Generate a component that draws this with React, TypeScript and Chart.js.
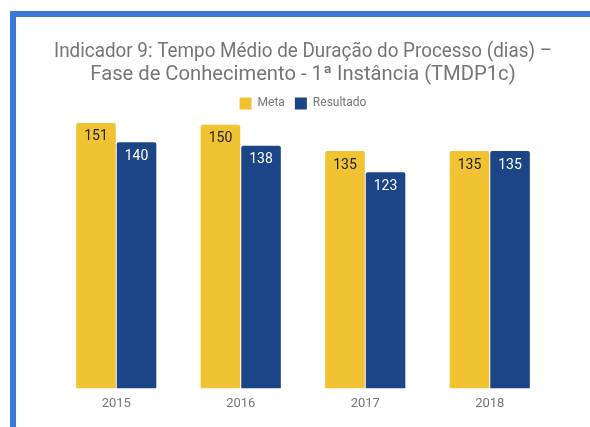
import React, { useEffect, useRef } from "react";
import { Chart, registerables } from "chart.js";

Chart.register(...registerables);

const TITLE_LINES = [
  "Indicador 9: Tempo Médio de Duração do Processo (dias) –",
  "Fase de Conhecimento - 1ª Instância (TMDP1c)",
];
const YEARS = ["2015", "2016", "2017", "2018"];
const META = [151, 150, 135, 135];
const RESULTADO = [140, 138, 123, 135];
const SERIES_NAMES = ["Meta", "Resultado"];

const YELLOW = "#f1c232";
const BLUE = "#1c4587";
const GRAY = "#757575";
const FONT = "Roboto";

const valueLabels = {
  id: "valueLabels",
  afterDatasetsDraw(chart: any) {
    const ctx = chart.ctx;
    ctx.save();
    ctx.font = `14px ${FONT}`;
    ctx.textAlign = "center";
    ctx.textBaseline = "middle";
    chart.data.datasets.forEach((ds: any, i: number) => {
      const meta = chart.getDatasetMeta(i);
      ctx.fillStyle = i === 0 ? "#212121" : "#ffffff";
      meta.data.forEach((el: any, j: number) => {
        ctx.fillText(String(ds.data[j]), el.x, el.y + 14);
      });
    });
    ctx.restore();
  },
};

export default function App() {
  const ref = useRef<HTMLCanvasElement | null>(null);
  useEffect(() => {
    if (!ref.current) return;
    const chart = new Chart(ref.current, {
      type: "bar",
      data: {
        labels: YEARS,
        datasets: [
          {
            label: SERIES_NAMES[0],
            data: META,
            backgroundColor: YELLOW,
            borderRadius: { topLeft: 2, topRight: 2, bottomLeft: 0, bottomRight: 0 },
            borderSkipped: false,
            categoryPercentage: 0.652,
            barPercentage: 0.975,
          },
          {
            label: SERIES_NAMES[1],
            data: RESULTADO,
            backgroundColor: BLUE,
            borderRadius: { topLeft: 2, topRight: 2, bottomLeft: 0, bottomRight: 0 },
            borderSkipped: false,
            categoryPercentage: 0.652,
            barPercentage: 0.975,
          },
        ],
      },
      options: {
        responsive: false,
        animation: false,
        devicePixelRatio: 1,
        layout: { padding: { left: 54, right: 38, top: 40, bottom: 7 } },
        plugins: {
          title: {
            display: true,
            text: TITLE_LINES,
            color: GRAY,
            font: { family: FONT, size: 20.2, weight: "normal", lineHeight: 1.15 },
            padding: { top: 0, bottom: 1 },
          },
          legend: {
            display: true,
            labels: {
              boxWidth: 12,
              boxHeight: 12,
              color: GRAY,
              font: { family: FONT, size: 12 },
              padding: 10,
            },
          },
          tooltip: { enabled: false },
        },
        scales: {
          x: {
            grid: { display: false, drawTicks: false },
            border: { display: false },
            ticks: { color: GRAY, font: { family: FONT, size: 13 }, padding: 8 },
          },
          y: { display: false, min: 0, max: 153 },
        },
      },
      plugins: [valueLabels],
    });
    return () => chart.destroy();
  }, []);

  return (
    <div style={{ position: "fixed", left: 0, top: 0, width: 590, height: 427, background: "#fff" }}>
      <div
        style={{
          position: "absolute",
          left: 10,
          top: 11,
          right: 0,
          bottom: 0,
          borderTop: "6px solid #3c78d8",
          borderLeft: "6px solid #3c78d8",
        }}
      />
      <canvas
        ref={ref}
        width={590}
        height={427}
        style={{ position: "absolute", left: 0, top: 0, width: 590, height: 427 }}
      />
    </div>
  );
}
